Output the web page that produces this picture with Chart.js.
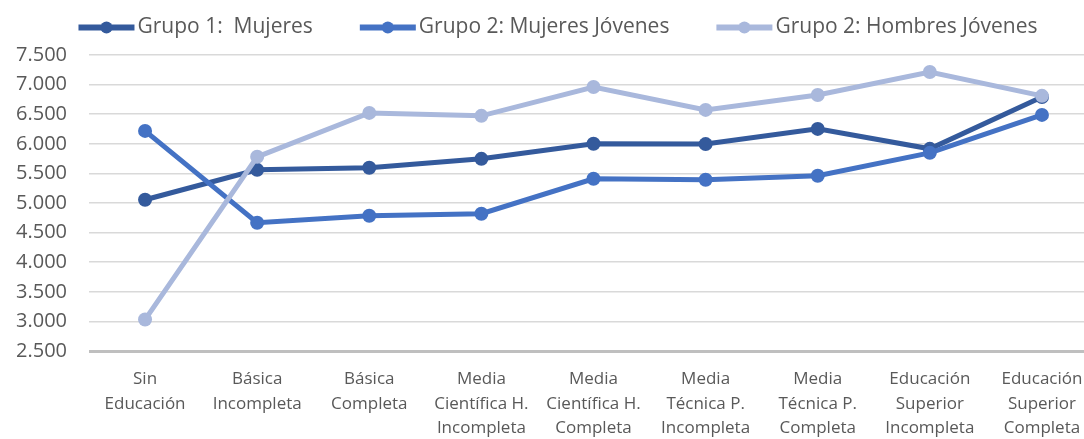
<!DOCTYPE html>
<html>
<head>
<meta charset="utf-8">
<script src="https://cdn.jsdelivr.net/npm/chart.js@4"></script>
<style>
  html, body { margin: 0; padding: 0; background: #fff; overflow: hidden; }
  #wrap { width: 1129px; height: 439px; margin-left: -24px; }
</style>
</head>
<body>
<div id="wrap"><canvas id="myChart"></canvas></div>
<script>
// Datos
const categorias = [
  ['Sin', 'Educación'],
  ['Básica', 'Incompleta'],
  ['Básica', 'Completa'],
  ['Media', 'Científica H.', 'Incompleta'],
  ['Media', 'Científica H.', 'Completa'],
  ['Media', 'Técnica P.', 'Incompleta'],
  ['Media', 'Técnica P.', 'Completa'],
  ['Educación', 'Superior', 'Incompleta'],
  ['Educación', 'Superior', 'Completa']
];
const grupo1Mujeres = [5055, 5560, 5595, 5746, 6000, 5995, 6252, 5915, 6790];
const grupo2Mujeres = [6218, 4667, 4785, 4819, 5409, 5392, 5460, 5847, 6488];
const grupo2Hombres = [3031, 5780, 6522, 6472, 6960, 6573, 6825, 7213, 6810];
const ejeY = { min: 2500, max: 7500, paso: 500 };

const colores = ['#345A9C', '#4472C4', '#A9B8DC'];
const gris = '#595959';

function miles(v) {
  return String(v).replace(/\B(?=(\d{3})+(?!\d))/g, '.');
}

function serie(nombre, valores, color, orden) {
  return {
    label: nombre,
    data: valores,
    borderColor: color,
    backgroundColor: color,
    pointBackgroundColor: color,
    pointBorderColor: color,
    borderWidth: 5,
    pointRadius: 7,
    pointBorderWidth: 0,
    tension: 0,
    order: orden
  };
}

// marcadores de la leyenda (línea con círculo)
const marcadorLeyenda = {
  id: 'marcadorLeyenda',
  afterDraw(chart) {
    const legend = chart.legend;
    if (!legend || !legend.legendHitBoxes) return;
    const ctx = chart.ctx;
    const labels = legend.options.labels;
    const fontSize = labels.font.size;
    legend.legendItems.forEach((item, i) => {
      const hb = legend.legendHitBoxes[i];
      const textX = hb.left + labels.boxWidth + fontSize / 2;
      const y = hb.top + hb.height / 2;
      const color = chart.data.datasets[item.datasetIndex].borderColor;
      const x1 = textX - 3 - 56, x2 = textX - 3;
      ctx.save();
      ctx.strokeStyle = color;
      ctx.lineWidth = 6;
      ctx.beginPath();
      ctx.moveTo(x1, y);
      ctx.lineTo(x2, y);
      ctx.stroke();
      ctx.fillStyle = color;
      ctx.beginPath();
      ctx.arc((x1 + x2) / 2, y, 6, 0, Math.PI * 2);
      ctx.fill();
      ctx.restore();
    });
  }
};

const ctx = document.getElementById('myChart').getContext('2d');

const chart = new Chart(ctx, {
  type: 'line',
  data: {
    labels: categorias,
    datasets: [
      serie('Grupo 1:  Mujeres', grupo1Mujeres, colores[0], 2),
      serie('Grupo 2: Mujeres Jóvenes', grupo2Mujeres, colores[1], 1),
      serie('Grupo 2: Hombres Jóvenes', grupo2Hombres, colores[2], 0)
    ]
  },
  options: {
    responsive: true,
    maintainAspectRatio: false,
    animation: false,
    layout: { padding: { top: 0, left: 0, right: 2, bottom: 0 } },
    plugins: {
      legend: {
        display: true,
        position: 'top',
        labels: {
          color: gris,
          font: { size: 21, family: 'Open Sans' },
          boxWidth: 85.5,
          boxHeight: 35,
          padding: 10,
          sort: (a, b) => a.datasetIndex - b.datasetIndex,
          generateLabels: function(chart) {
            const base = Chart.defaults.plugins.legend.labels.generateLabels(chart);
            return base.map(l => Object.assign(l, {
              fillStyle: 'rgba(0,0,0,0)',
              strokeStyle: 'rgba(0,0,0,0)',
              lineWidth: 0
            }));
          }
        }
      },
      tooltip: { enabled: false }
    },
    scales: {
      x: {
        offset: true,
        grid: { display: false, drawTicks: false },
        border: { display: false },
        ticks: {
          color: gris,
          font: { size: 17, family: 'Open Sans', lineHeight: 1.45 },
          padding: 16,
          maxRotation: 0,
          autoSkip: false
        },
        afterFit: function(scale) { scale.height = 88; }
      },
      y: {
        min: ejeY.min,
        max: ejeY.max,
        border: { display: false },
        grid: {
          drawTicks: false,
          color: c => c.tick.value === ejeY.min ? '#BFBFBF' : '#D9D9D9',
          lineWidth: c => c.tick.value === ejeY.min ? 3 : 1.5
        },
        ticks: {
          stepSize: ejeY.paso,
          color: gris,
          font: { size: 20, family: 'Open Sans' },
          padding: 22,
          callback: v => miles(v)
        },
        afterFit: function(scale) { scale.width = 113; }
      }
    }
  },
  plugins: [marcadorLeyenda]
});
</script>
</body>
</html>
